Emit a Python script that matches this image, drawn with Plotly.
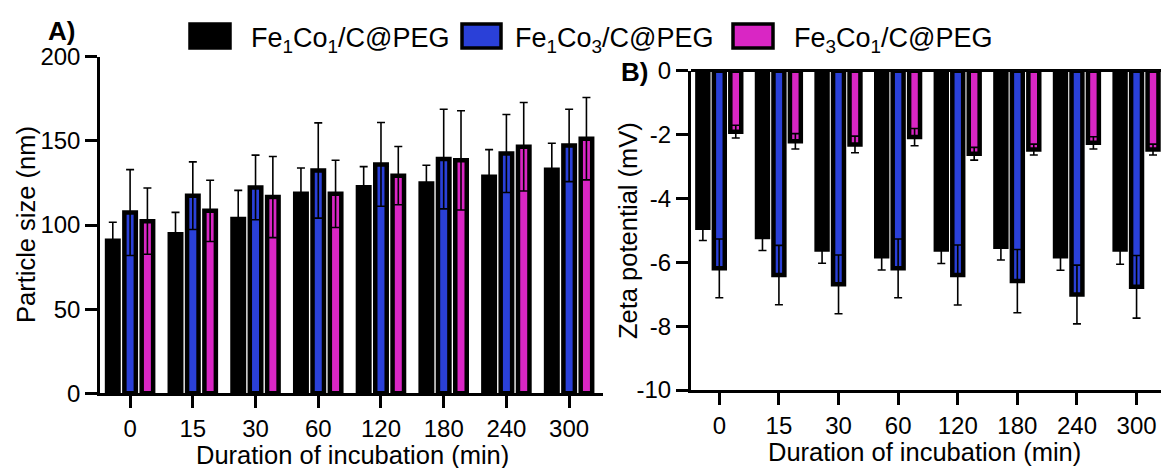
import plotly.graph_objects as go

# ---------------- data ----------------
categories = ["0", "15", "30", "60", "120", "180", "240", "300"]
series_names = ["Fe<sub>1</sub>Co<sub>1</sub>/C@PEG",
                "Fe<sub>1</sub>Co<sub>3</sub>/C@PEG",
                "Fe<sub>3</sub>Co<sub>1</sub>/C@PEG"]

size_fe1co1 = [90.6, 94.5, 103.5, 118.5, 122.5, 124.7, 128.7, 132.8]
size_fe1co1_sd = [11.0, 13.0, 17.1, 15.4, 12.2, 10.8, 16.1, 15.8]
size_fe1co3 = [107.4, 117.4, 122.3, 132.4, 136.0, 139.2, 142.5, 147.3]
size_fe1co3_sd = [25.5, 20.1, 19.2, 28.3, 24.9, 29.6, 23.2, 21.5]
size_fe3co1 = [102.3, 108.4, 116.6, 118.5, 129.3, 138.4, 146.5, 151.3]
size_fe3co1_sd = [19.7, 18.2, 24.1, 20.0, 17.3, 29.5, 26.3, 24.5]

zeta_fe1co1 = [-4.92, -5.21, -5.60, -5.81, -5.60, -5.51, -5.81, -5.60]
zeta_fe1co1_sd = [0.40, 0.42, 0.43, 0.43, 0.44, 0.42, 0.44, 0.46]
zeta_fe1co3 = [-6.19, -6.40, -6.69, -6.19, -6.40, -6.59, -7.01, -6.77]
zeta_fe1co3_sd = [0.92, 0.93, 0.92, 0.92, 0.94, 0.99, 0.92, 0.98]
zeta_fe3co1 = [-1.91, -2.21, -2.31, -2.08, -2.60, -2.47, -2.26, -2.47]
zeta_fe3co1_sd = [0.20, 0.24, 0.26, 0.27, 0.20, 0.17, 0.19, 0.17]

size_ticks = [0, 50, 100, 150, 200]
zeta_ticks = [0, -2, -4, -6, -8, -10]

colors = ["#000000", "#2a40d8", "#d926c4"]

W, H = 1161, 468
FONT = "Liberation Sans, Arial, sans-serif"


def px(x):
    return x / W


def py(y):
    return 1 - y / H


fig = go.Figure()

size_sets = [(size_fe1co1, size_fe1co1_sd), (size_fe1co3, size_fe1co3_sd), (size_fe3co1, size_fe3co1_sd)]
zeta_sets = [(zeta_fe1co1, zeta_fe1co1_sd), (zeta_fe1co3, zeta_fe1co3_sd), (zeta_fe3co1, zeta_fe3co1_sd)]

for i, (vals, sd) in enumerate(size_sets):
    fig.add_trace(go.Bar(
        x=categories, y=vals, name=series_names[i], xaxis="x", yaxis="y",
        offsetgroup=str(i),
        marker=dict(color=colors[i], line=dict(color="#000000", width=4.5)),
        error_y=dict(type="data", array=sd, visible=True, color="#000000", thickness=1.6, width=4),
        showlegend=False,
    ))
for i, (vals, sd) in enumerate(zeta_sets):
    fig.add_trace(go.Bar(
        x=categories, y=vals, name=series_names[i], xaxis="x2", yaxis="y2",
        offsetgroup=str(i),
        marker=dict(color=colors[i], line=dict(color="#000000", width=4.5)),
        error_y=dict(type="data", array=sd, visible=True, color="#000000", thickness=1.6, width=4),
        showlegend=False,
    ))

axis_common = dict(showgrid=False, showline=True, linecolor="#000000", linewidth=2.5,
                   ticks="outside", ticklen=12, tickwidth=2.5, tickcolor="#000000",
                   automargin=False,
                   tickfont=dict(family=FONT, size=24, color="#000000"))

fig.update_layout(
    width=W, height=H,
    margin=dict(l=0, r=0, t=0, b=0, pad=0, autoexpand=False),
    paper_bgcolor="white", plot_bgcolor="white",
    barmode="group", bargap=0.172, bargroupgap=0.337,
    showlegend=False,
    xaxis=dict(domain=[px(100), px(603)], anchor="y", type="category",
               range=[-0.48, 7.54], zeroline=False, **axis_common),
    yaxis=dict(domain=[py(393.3), py(56.7)], anchor="x", range=[0, 200],
               tickvals=size_ticks, ticktext=[str(t) for t in size_ticks],
               zeroline=False, **axis_common),
    xaxis2=dict(domain=[px(690.7), 1.0], anchor="y2", type="category",
                range=[-0.48, 7.41], zeroline=False, **axis_common),
    yaxis2=dict(domain=[py(390), py(70.7)], anchor="x2", range=[-10, 0],
                tickvals=zeta_ticks, ticktext=[str(t) for t in zeta_ticks],
                zeroline=True, zerolinecolor="#000000", zerolinewidth=2.5, **axis_common),
)

annos = []
title_font = dict(family=FONT, size=25.5, color="#000000")
annos.append(dict(text="Duration of incubation (min)", x=px(352), y=py(455), xref="paper", yref="paper",
                  xanchor="center", yanchor="middle", showarrow=False, font=title_font))
annos.append(dict(text="Duration of incubation (min)", x=px(924), y=py(452), xref="paper", yref="paper",
                  xanchor="center", yanchor="middle", showarrow=False, font=title_font))
annos.append(dict(text="Particle size (nm)", x=px(26), y=py(225), xref="paper", yref="paper",
                  xanchor="center", yanchor="middle", textangle=-90, showarrow=False, font=title_font))
annos.append(dict(text="Zeta potential (mV)", x=px(628), y=py(230), xref="paper", yref="paper",
                  xanchor="center", yanchor="middle", textangle=-90, showarrow=False, font=title_font))
annos.append(dict(text="<b>A)</b>", x=px(46), y=py(31), xref="paper", yref="paper",
                  xanchor="left", yanchor="middle", showarrow=False,
                  font=dict(family=FONT, size=26, color="#000000")))
annos.append(dict(text="<b>B)</b>", x=px(619), y=py(72), xref="paper", yref="paper",
                  xanchor="left", yanchor="middle", showarrow=False,
                  font=dict(family=FONT, size=26, color="#000000")))

# manual legend
shapes = []
legend_boxes = [(190, 230), (462, 501), (733, 773)]
legend_text_x = [249, 513, 792]
for i in range(3):
    x0, x1 = legend_boxes[i]
    shapes.append(dict(type="rect", xref="paper", yref="paper",
                       x0=px(x0), x1=px(x1), y0=py(48), y1=py(24),
                       fillcolor=colors[i], line=dict(color="#000000", width=3.5)))
    annos.append(dict(text=series_names[i], x=px(legend_text_x[i]), y=py(40), xref="paper", yref="paper",
                      xanchor="left", yanchor="middle", showarrow=False,
                      font=dict(family=FONT, size=27, color="#000000")))

fig.update_layout(annotations=annos, shapes=shapes)

fig.write_html("out.html", config={"displayModeBar": False},
               post_script="document.body.style.margin='0';")
